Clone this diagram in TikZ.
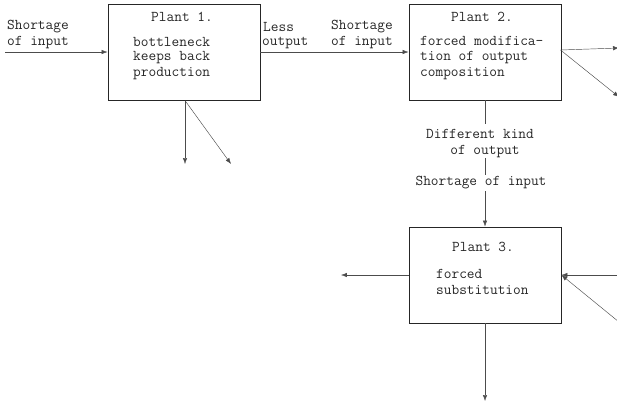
\documentclass[tikz,border=0pt]{standalone}
\usetikzlibrary{arrows.meta}
\begin{document}
\begin{tikzpicture}[x=1bp,y=-1bp,
  font=\ttfamily\fontsize{15}{16}\selectfont,
  plantbox/.style={draw=black!85,line width=0.9pt,minimum width=152bp,minimum height=96bp,inner sep=0pt},
  flow/.style={draw=black!70,line width=0.45pt,-{Latex[length=6pt,width=4.4pt]}},
  plain/.style={draw=black!70,line width=0.45pt},
  txt/.style={inner sep=0pt,text=black!85},
  lbl/.style={inner sep=0pt,text=black!85,align=center}]
\useasboundingbox (0,0) rectangle (617,405);

% plants
\node[plantbox] (p1) at (184,52.5) {};
\node[plantbox] (p2) at (485,52) {};
\node[plantbox] (p3) at (485,275) {};

% plant texts
\node[txt] (t1) at (182,17) {Plant 1.};
\node[txt,anchor=west] (b1) at (133,42) {bottleneck};
\node[txt,anchor=west] (b2) at (133,58) {keeps back};
\node[txt,anchor=west] (b3) at (133,74) {production};

\node[txt] (t2) at (482,17) {Plant 2.};
\node[txt,anchor=west] (c1) at (420,41) {forced modifica-};
\node[txt,anchor=west] (c2) at (420,58) {tion of output};
\node[txt,anchor=west] (c3) at (420,74) {composition};

\node[txt] (t3) at (483,247) {Plant 3.};
\node[txt,anchor=west] (d1) at (436,274) {forced};
\node[txt,anchor=west] (d2) at (436,290) {substitution};

% input to plant 1
\coordinate (in1) at (5,52);
\draw[flow] (in1) -- (in1 -| p1.west);
\node[lbl,anchor=west] (s1a) at (7,27) {Shortage};
\node[lbl,anchor=west] (s1b) at (7,43) {of input};

% plant 1 to plant 2
\draw[flow] (p1.east |- 0,52) -- (p2.west |- 0,52);
\node[lbl,anchor=west] (l1) at (263,27) {Less};
\node[lbl,anchor=west] (l2) at (262,43) {output};
\node[lbl,anchor=west] (s2a) at (331,27) {Shortage};
\node[lbl,anchor=west] (s2b) at (331,43) {of input};

% plant 1 losses
\coordinate (o1) at (185,100.5);
\coordinate (o1a) at (185,164);
\coordinate (o1b) at (231,164);
\draw[flow] (o1) -- (o1a);
\draw[flow] (o1) -- (o1b);

% plant 2 outputs to the right
\coordinate (o2) at (560.5,50);
\coordinate (o2a) at (619,48);
\coordinate (o2b) at (619,97);
\draw[flow] (o2) -- (o2a);
\draw[flow] (o2) -- (o2b);

% plant 2 to plant 3
\node[lbl] (dk1) at (480,134) {Different kind};
\node[lbl] (dk2) at (485,152) {of output};
\node[lbl] (si) at (481,183) {Shortage of input};
\draw[plain] (p2.south) -- (485,124);
\draw[plain] (485,158) -- (485,175);
\draw[flow] (485,191) -- (p3.north);

% plant 3 connections
\coordinate (w3) at (341,275);
\draw[flow] (p3.west) -- (w3);
\coordinate (e3a) at (619,275);
\coordinate (e3b) at (619,322);
\draw[flow] (e3a) -- (p3.east);
\draw[flow] (e3b) -- (p3.east);
\coordinate (s3) at (485,401);
\draw[flow] (p3.south) -- (s3);
\end{tikzpicture}
\end{document}
